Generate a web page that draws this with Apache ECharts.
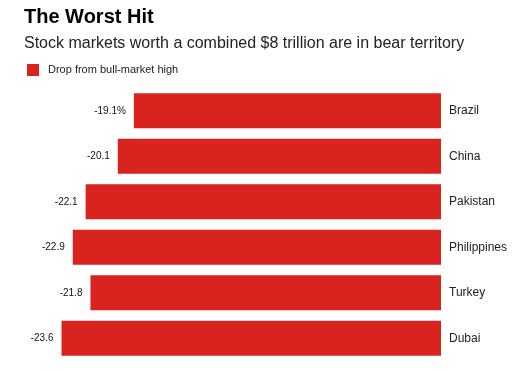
<!DOCTYPE html>
<html>
<head>
<meta charset="utf-8">
<script src="https://cdn.jsdelivr.net/npm/echarts@6/dist/echarts.min.js"></script>
<style>
html,body{margin:0;padding:0;background:#fff;}
#main{width:515px;height:371px;}
</style>
</head>
<body>
<div id="main"></div>
<script>
var categories = ['Brazil', 'China', 'Pakistan', 'Philippines', 'Turkey', 'Dubai'];
var drops = [-19.1, -20.1, -22.1, -22.9, -21.8, -23.6];
var seriesName = 'Drop from bull-market high';

var chart = echarts.init(document.getElementById('main'));
var FONT = '"Liberation Sans", Arial, Helvetica, sans-serif';
chart.setOption({
  animation: false,
  backgroundColor: '#ffffff',
  textStyle: { fontFamily: FONT },
  title: [
    { text: 'The Worst Hit', left: 24, top: 7, padding: 0,
      textStyle: { fontFamily: FONT, fontSize: 20, fontWeight: 'bold', color: '#000' } },
    { text: 'Stock markets worth a combined $8 trillion are in bear territory', left: 24, top: 36, padding: 0,
      textStyle: { fontFamily: FONT, fontSize: 16, fontWeight: 'normal', color: '#222' } }
  ],
  legend: {
    left: 27, top: 64, padding: 0, itemWidth: 12, itemHeight: 12, itemGap: 10,
    icon: 'rect',
    textStyle: { fontFamily: FONT, fontSize: 11, color: '#222', padding: [0, 0, 0, 4] },
    data: [seriesName]
  },
  grid: { left: 39, right: 74, top: 88, bottom: 10, containLabel: false },
  xAxis: {
    type: 'value', min: -25, max: 0, show: false
  },
  yAxis: {
    type: 'category', data: categories, inverse: true, position: 'right',
    axisLine: { show: false }, axisTick: { show: false }, splitLine: { show: false },
    axisLabel: { margin: 8, fontFamily: FONT, fontSize: 12, color: '#222' }
  },
  series: [{
    name: seriesName,
    type: 'bar',
    data: drops,
    barCategoryGap: '23%',
    itemStyle: { color: '#d8231e' },
    label: {
      show: true, position: 'left', distance: 8,
      fontFamily: FONT, fontSize: 10, color: '#111',
      formatter: function (p) { return p.dataIndex === 0 ? p.value + '%' : String(p.value); }
    }
  }]
});
</script>
</body>
</html>
